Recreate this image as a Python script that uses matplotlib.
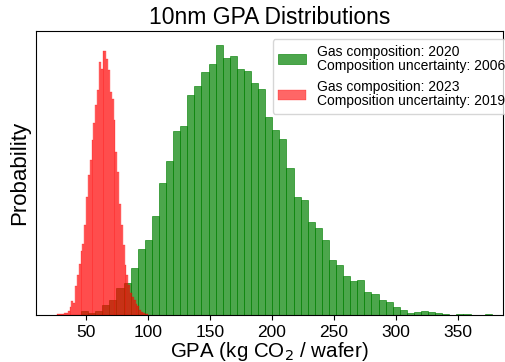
import numpy as np
import matplotlib
matplotlib.use("Agg")
import matplotlib.pyplot as plt

plt.rcParams['font.family'] = ['Liberation Sans', 'DejaVu Sans']

# Histogram data (relative frequency, arbitrary units)
green_start = 46.3
green_bin = 5.71
green_heights = [4, 2, 4, 10, 15, 27, 32, 47, 66, 75, 99, 132, 154, 184, 189, 220,
                 229, 243, 251, 270, 257, 259, 246, 244, 232, 226, 198, 185, 176,
                 147, 118, 115, 93, 87, 75, 55, 50, 39, 34, 35, 23, 21, 15, 13, 8,
                 5, 2, 3, 4, 3, 2, 1, 0, 1, 1, 0, 0, 1]

red_start = 26.6
red_bin = 1.48
red_heights = [1, 1, 1, 1, 2, 2, 4, 8, 14, 12, 29, 40, 51, 64, 71, 90, 118, 140,
               155, 175, 192, 210, 225, 253, 246, 264, 264, 256, 245, 223, 216,
               195, 163, 143, 111, 90, 70, 50, 40, 30, 22, 18, 15, 11, 9, 5, 3,
               2, 1, 1]

xticks = [50, 100, 150, 200, 250, 300, 350]
label_green = "Gas composition: 2020\nComposition uncertainty: 2006"
label_red = "Gas composition: 2023\nComposition uncertainty: 2019"

W, H = 506, 362
fig = plt.figure(figsize=(W / 100, H / 100), dpi=100)
ax = fig.add_axes([35.7 / W, 1 - 315 / H, (503 - 35.7) / W, (315 - 31) / H])

g_left = green_start + green_bin * np.arange(len(green_heights))
r_left = red_start + red_bin * np.arange(len(red_heights))

ax.bar(g_left, green_heights, width=green_bin, align='edge', color='green',
       alpha=0.7, edgecolor='green', linewidth=0.6, label=label_green)
ax.bar(r_left, red_heights, width=red_bin, align='edge', color='red',
       alpha=0.6, edgecolor='red', linewidth=0.3, label=label_red)

ax.set_xlim(9.7, 386.5)
ax.set_ylim(0, max(green_heights) * 1.052)
ax.set_xticks(xticks)
ax.tick_params(axis='x', labelsize=12.5)
ax.set_yticks([])
ax.set_ylabel("Probability", fontsize=16)
ax.set_xlabel("GPA (kg CO$_2$ / wafer)", fontsize=14.8, labelpad=0.5)
ax.set_title("10nm GPA Distributions", fontsize=16.5, pad=5)
leg = ax.legend(loc='upper left', fontsize=10, labelspacing=0.55,
                bbox_to_anchor=(272.7 / W, 1 - 39 / H),
                bbox_transform=fig.transFigure, borderaxespad=0)
for t in leg.get_texts():
    t.set_linespacing(1.0)

fig.savefig("out.png", dpi=100)
